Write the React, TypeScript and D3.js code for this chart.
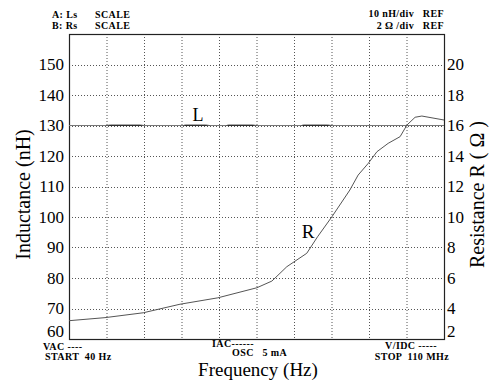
import React from "react";
import * as d3 from "d3";

// trace data (log sweep 40 Hz .. 110 MHz)
const freqR = [40, 166, 753, 3220, 14400, 67300, 122000, 220000, 484000, 740000, 1.31e6, 2.66e6, 3.69e6, 5.51e6, 7.75e6, 1.21e7, 1.94e7, 2.54e7, 3.51e7, 4.58e7, 1.1e8];
const resistance = [3.2, 3.4, 3.72, 4.28, 4.7, 5.36, 5.8, 6.74, 7.62, 8.7, 10.02, 11.77, 12.75, 13.52, 14.28, 14.83, 15.27, 16.03, 16.54, 16.62, 16.36];

const freqL = [40, 176, 204, 669, 776, 3680, 3960, 8950, 10400, 20200, 21800, 57200, 66400, 393000, 423000, 1.11e6, 1.29e6, 2.5e7, 1.1e8];
const inductance = [130, 130, 130.2, 130.2, 130, 130, 130.2, 130.2, 130, 130, 130.2, 130.2, 130, 130, 130.2, 130.2, 130, 130, 130];

const leftTicks = [60, 70, 80, 90, 100, 110, 120, 130, 140, 150];
const rightTicks = [2, 4, 6, 8, 10, 12, 14, 16, 18, 20];
const refL = 130;

const W = 493;
const H = 381;
const m = { left: 69, right: 444, top: 34, bottom: 339 };
const font = "Liberation Serif, DejaVu Serif, serif";
const traceColor = "#555";

export default function App() {
  const x = d3.scaleLog().domain([40, 1.1e8]).range([m.left, m.right]);
  const div = d3.scaleLinear().domain([0, 10]).range([m.left, m.right]);
  const yL = d3.scaleLinear().domain([60, 160]).range([m.bottom, m.top]);
  const yR = d3.scaleLinear().domain([2, 22]).range([m.bottom, m.top]);

  const lineR = d3.line<number>().x((_, i) => x(freqR[i])).y((d) => yR(d));
  const lineL = d3.line<number>().x((_, i) => x(freqL[i])).y((d) => yL(d));

  const bold = { fontFamily: font, fontWeight: 700, fontSize: 10, letterSpacing: 0.4 } as const;
  // bottom labels sit just above the frame line
  const labelY = (py: number) => Math.min(py + 5.5, m.bottom - 2);

  return (
    <svg width={W} height={H} style={{ position: "absolute", left: 0, top: 0, background: "#fff" }}>
      {/* grid */}
      {d3.range(1, 10).map((i) => (
        <line key={"gx" + i} x1={div(i) + 0.5} x2={div(i) + 0.5} y1={m.top} y2={m.bottom}
          stroke="#555" strokeDasharray="1,2" strokeWidth={1} />
      ))}
      {d3.range(70, 160, 10).map((v) => (
        <line key={"gy" + v} x1={m.left} x2={m.right} y1={Math.round(yL(v)) + 0.5} y2={Math.round(yL(v)) + 0.5}
          stroke="#555" strokeDasharray="1,2" strokeWidth={1} />
      ))}
      {/* reference line */}
      <line x1={m.left} x2={m.right} y1={Math.round(yL(refL)) - 0.5} y2={Math.round(yL(refL)) - 0.5} stroke="#000" strokeWidth={1} />
      {/* frame */}
      <rect x={m.left + 0.5} y={m.top + 0.5} width={m.right - m.left} height={m.bottom - m.top} fill="none" stroke="#222" strokeWidth={1.2} />

      {/* traces */}
      <path d={lineL(inductance) ?? ""} fill="none" stroke="#777" strokeWidth={1} />
      <path d={lineR(resistance) ?? ""} fill="none" stroke={traceColor} strokeWidth={1} />
      <text x={198} y={121} fontFamily={font} fontSize={18} textAnchor="middle">L</text>
      <text x={308} y={238} fontFamily={font} fontSize={19} textAnchor="middle">R</text>

      {/* tick labels */}
      {leftTicks.map((v) => (
        <text key={"l" + v} x={64} y={labelY(yL(v))} textAnchor="end" fontFamily={font} fontSize={17}>{v}</text>
      ))}
      {rightTicks.map((v) => (
        <text key={"r" + v} x={447} y={labelY(yR(v))} textAnchor="start" fontFamily={font} fontSize={17}>{v}</text>
      ))}

      {/* axis titles */}
      <text transform={`translate(30,${(m.top + m.bottom) / 2 + 8}) rotate(-90)`} textAnchor="middle" fontFamily={font} fontSize={20}>Inductance (nH)</text>
      <text transform={`translate(484,${(m.top + m.bottom) / 2 + 8}) rotate(-90)`} textAnchor="middle" fontFamily={font} fontSize={20} xmlSpace="preserve">Resistance R ( Ω )</text>
      <text x={258} y={376} textAnchor="middle" fontFamily={font} fontSize={19}>Frequency (Hz)</text>

      {/* header */}
      <text x={52} y={18} {...bold}>A: Ls</text>
      <text x={95} y={18} {...bold}>SCALE</text>
      <text x={52} y={29} {...bold}>B: Rs</text>
      <text x={95} y={29} {...bold}>SCALE</text>
      <text x={444} y={17} textAnchor="end" {...bold} xmlSpace="preserve">10 nH/div   REF</text>
      <text x={444} y={29} textAnchor="end" {...bold} xmlSpace="preserve">2 Ω /div   REF</text>

      {/* footer */}
      <text x={43} y={350} {...bold}>VAC ----</text>
      <text x={45} y={360} {...bold} xmlSpace="preserve">START  40 Hz</text>
      <text x={212} y={347} {...bold}>IAC------</text>
      <text x={232} y={356} {...bold} xmlSpace="preserve">OSC   5 mA</text>
      <text x={437} y={349} textAnchor="end" {...bold}>V/IDC -----</text>
      <text x={449} y={360} textAnchor="end" {...bold} xmlSpace="preserve">STOP  110 MHz</text>
    </svg>
  );
}
